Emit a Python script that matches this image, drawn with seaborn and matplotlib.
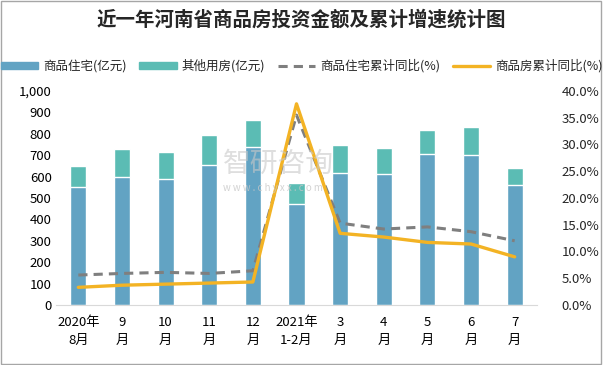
import matplotlib
matplotlib.use("Agg")
import matplotlib.pyplot as plt
import seaborn as sns
import pandas as pd
from matplotlib.patches import Patch, Rectangle
from matplotlib.lines import Line2D
from matplotlib.ticker import FuncFormatter

# data
months = ["2020年\n8月", "9\n月", "10\n月", "11\n月", "12\n月", "2021年\n1-2月",
          "3\n月", "4\n月", "5\n月", "6\n月", "7\n月"]
residential = [550, 598, 590, 655, 738, 472, 615, 612, 706, 700, 561]
other = [98, 131, 125, 139, 126, 97, 133, 122, 112, 132, 78]
res_yoy = [5.6, 5.9, 6.1, 5.9, 6.4, 35.5, 15.3, 14.2, 14.6, 13.7, 12.0]
all_yoy = [3.3, 3.7, 3.9, 4.1, 4.3, 37.6, 13.4, 12.7, 11.7, 11.4, 9.0]

df = pd.DataFrame({"月份": months, "商品住宅": residential, "其他用房": other,
                   "住宅同比": res_yoy, "商品房同比": all_yoy})
df["合计"] = df["商品住宅"] + df["其他用房"]
df["x"] = range(len(df))

sns.set_style("white")
plt.rcParams["font.family"] = ["Noto Sans CJK SC", "DejaVu Sans"]

c_res = "#62a3c3"
c_oth = "#5bbcb4"
c_dash = "#7f7f7f"
c_line = "#f3b324"

fig = plt.figure(figsize=(6.03, 3.65), dpi=100)
ax = fig.add_axes([56.5 / 603, 1 - 305 / 365, 480 / 603, 214 / 365])

# stacked bars: total first, then residential on top of it
sns.barplot(data=df, x="月份", y="合计", color=c_oth, width=0.37,
            saturation=1, ax=ax)
sns.barplot(data=df, x="月份", y="商品住宅", color=c_res, width=0.37,
            saturation=1, ax=ax)
ax.set_ylim(0, 1000)
ax.set_yticks(range(0, 1001, 100))
ax.yaxis.set_major_formatter(FuncFormatter(lambda v, p: f"{int(v):,}"))
ax.set_xlim(-0.5, 10.5)
ax.set_xlabel("")
ax.set_ylabel("")
for s in ["top", "right", "left"]:
    ax.spines[s].set_visible(False)
ax.spines["bottom"].set_color("#d9d9d9")
ax.tick_params(axis="both", length=0, labelsize=9.5, colors="#000000")
ax.tick_params(axis="x", pad=8, labelsize=9.5)
for lab in ax.get_xticklabels():
    lab.set_linespacing(1.5)

ax2 = ax.twinx()
sns.lineplot(data=df, x="x", y="住宅同比", color=c_dash, lw=2.2,
             linestyle=(0, (3, 2)), ax=ax2)
sns.lineplot(data=df, x="x", y="商品房同比", color=c_line, lw=2.4, ax=ax2)
ax2.set_ylim(0, 40)
ax2.set_yticks(range(0, 41, 5))
ax2.yaxis.set_major_formatter(FuncFormatter(lambda v, p: f"{v:.1f}%"))
ax2.set_xlim(-0.5, 10.5)
ax2.set_ylabel("")
for s in ax2.spines.values():
    s.set_visible(False)
ax2.tick_params(axis="y", length=0, labelsize=9.5, pad=18)

# watermark
fig.text(0.37, 0.55, "智研咨询", fontsize=20, color="#c8c8c8", alpha=0.6,
         ha="left", va="center")
fig.text(0.37, 0.485, "w w w . c h y x x . c o m", fontsize=7, color="#c8c8c8",
         alpha=0.8, ha="left", va="center")

fig.text(0.5, 1 - 20 / 365, "近一年河南省商品房投资金额及累计增速统计图",
         ha="center", va="center", fontsize=14, fontweight="bold")

handles = [Patch(color=c_res), Patch(color=c_oth),
           Line2D([], [], color=c_dash, lw=2.2, linestyle=(0, (3, 2))),
           Line2D([], [], color=c_line, lw=2.4)]
labels = ["商品住宅(亿元)", "其他用房(亿元)", "商品住宅累计同比(%)", "商品房累计同比(%)"]
fig.legend(handles, labels, ncol=4, loc="center",
           bbox_to_anchor=(0.5, 1 - 66 / 365), frameon=False, fontsize=9,
           handlelength=3, handleheight=0.5, columnspacing=1.0, handletextpad=0.4)

fig.patches.append(Rectangle((0.002, 0.003), 0.995, 0.994, transform=fig.transFigure,
                             fill=False, edgecolor="#a6a6a6", lw=1))

fig.savefig("out.png", dpi=100)
